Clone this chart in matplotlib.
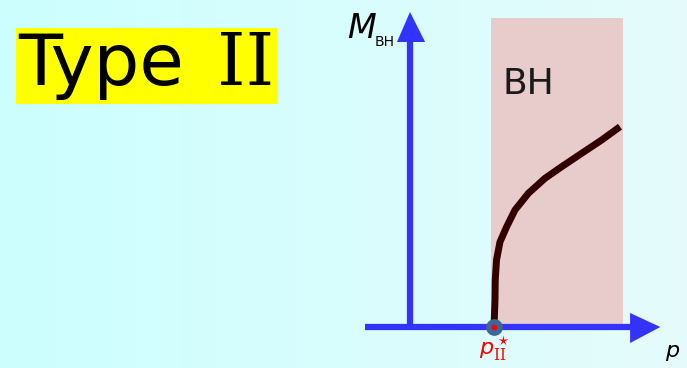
import numpy as np
import matplotlib.pyplot as plt
from matplotlib.patches import Rectangle

plt.rcParams['mathtext.fontset'] = 'custom'
plt.rcParams['mathtext.rm'] = 'DejaVu Serif'
plt.rcParams['mathtext.it'] = 'DejaVu Sans:italic'

# curve M_BH(p) (p* = 1)
p_curve = [1.0, 1.012, 1.015, 1.030, 1.071, 1.151, 1.250, 1.409, 1.607, 1.806, 2.044, 2.282, 2.5]
m_curve = [0.0, 0.27, 0.47, 0.67, 0.85, 1.003, 1.17, 1.337, 1.487, 1.603, 1.737, 1.87, 2.003]
p_star = 1.0
bh_region = (0.964, 2.536)  # p range of the shaded BH region
m_top = 3.09

fig = plt.figure(figsize=(6.87, 3.68), dpi=100)

# background gradient
bg = fig.add_axes([0, 0, 1, 1])
bg.axis('off')
grad = np.linspace(0, 1, 256).reshape(1, -1)
c0 = np.array([0.80, 1.0, 1.0])
c1 = np.array([0.90, 0.985, 0.985])
img = c0 + (c1 - c0) * grad[..., None]
bg.imshow(img, aspect='auto', extent=[0, 1, 0, 1])
bg.set_xlim(0, 1)
bg.set_ylim(0, 1)

ax = fig.add_axes([0, 0, 1, 1])
ax.patch.set_alpha(0)
ax.axis('off')
ax.set_xlim(-410 / 84, 277 / 84)
ax.set_ylim(-41 / 100, 327 / 100)

# shaded BH region
ax.add_patch(Rectangle((bh_region[0], 0.02), bh_region[1] - bh_region[0], m_top - 0.02,
                       facecolor='#e8cbcb', edgecolor='none', zorder=1))
ax.text(1.1, 2.43, 'BH', fontsize=26, color='#1a1a1a', ha='left', va='center', zorder=3)

# axes arrows
ax.plot([-0.54, 2.65], [0, 0], color='#3333ff', lw=4.5, solid_capstyle='butt', zorder=2)
ax.fill([2.62, 2.98, 2.62], [0.14, 0, -0.16], color='#3333ff', zorder=2, lw=0)
ax.plot([0, 0], [0, 2.88], color='#3333ff', lw=4.5, solid_capstyle='butt', zorder=2)
ax.fill([-0.155, 0.0, 0.18], [2.85, 3.15, 2.85], color='#3333ff', zorder=2, lw=0)

# curve
ax.plot(p_curve, m_curve, color='#330000', lw=5, solid_capstyle='butt',
        solid_joinstyle='round', zorder=4)

# critical point
ax.plot([p_star], [0], 'o', ms=11, color='#3d6796', zorder=5)
ax.plot([p_star], [0], 'o', ms=3, color='#ff0000', zorder=6)

# labels
ax.text(-0.75, 2.99, r'$M$', fontsize=24, ha='left', va='center', color='black')
ax.text(-0.42, 2.85, 'BH', fontsize=10, ha='left', va='center', color='black')
ax.text(3.04, -0.26, r'$p$', fontsize=16, ha='left', va='center', color='black')
ax.text(p_star, -0.22, r'$p^\star_{\mathrm{II}}$', fontsize=16, ha='center', va='center',
        color='#ff0000')

# title box
fig.patches.append(Rectangle((16 / 687, 1 - 104 / 368), 261 / 687, 76 / 368,
                             transform=fig.transFigure, facecolor='#ffff00',
                             edgecolor='none', zorder=1))
fig.text(18 / 687, 1 - 85 / 368, 'Type', fontsize=52, color='black', ha='left',
         va='baseline', zorder=2)
fig.text(274 / 687, 1 - 85 / 368, 'II', fontsize=52, family='DejaVu Serif', color='black',
         ha='right', va='baseline', zorder=2)

fig.savefig('out.png', dpi=100)
